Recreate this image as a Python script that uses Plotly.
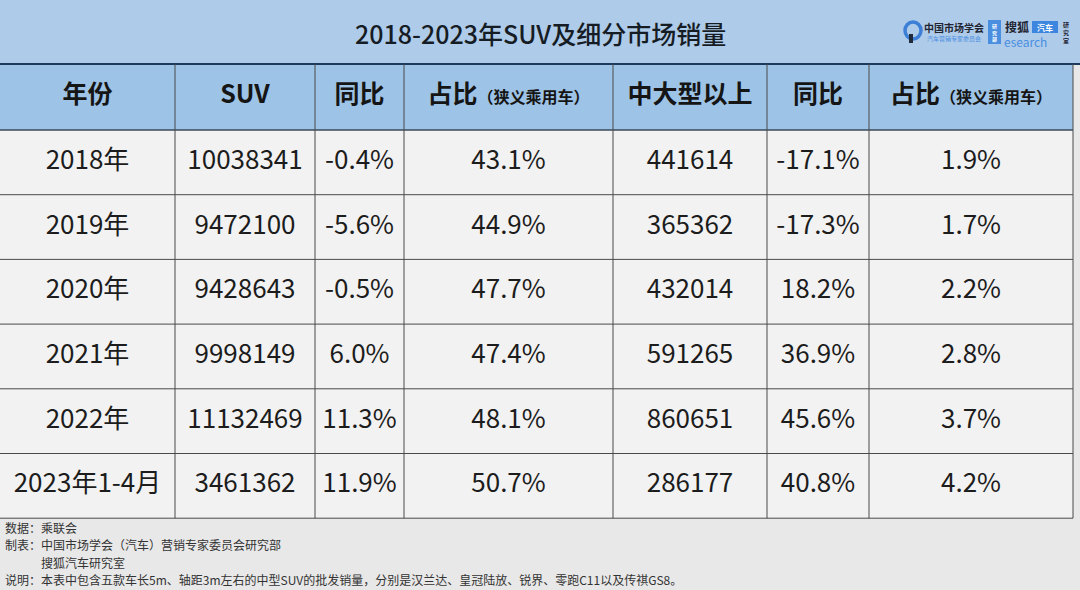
import plotly.graph_objects as go

# ---- data ----
years = ["2018年", "2019年", "2020年", "2021年", "2022年", "2023年1-4月"]
suv_sales = [10038341, 9472100, 9428643, 9998149, 11132469, 3461362]
suv_yoy = [-0.4, -5.6, -0.5, 6.0, 11.3, 11.9]
suv_share = [43.1, 44.9, 47.7, 47.4, 48.1, 50.7]
large_sales = [441614, 365362, 432014, 591265, 860651, 286177]
large_yoy = [-17.1, -17.3, 18.2, 36.9, 45.6, 40.8]
large_share = [1.9, 1.7, 2.2, 2.8, 3.7, 4.2]

headers = ["年份", "SUV", "同比", "占比", "中大型以上", "同比", "占比"]
header_notes = ["", "", "", "（狭义乘用车）", "", "", "（狭义乘用车）"]

title = "2018-2023年SUV及细分市场销量"
notes = [
    "数据：乘联会",
    "制表：中国市场学会（汽车）营销专家委员会研究部",
    "　　　搜狐汽车研究室",
    "说明：本表中包含五款车长5m、轴距3m左右的中型SUV的批发销量，分别是汉兰达、皇冠陆放、锐界、零跑C11以及传祺GS8。",
]

# ---- layout geometry (pixel space) ----
W, H = 1080, 590
FONT = "Noto Sans CJK SC"
col_w = [175, 140, 89, 209, 154, 102, 204]
edges = [0]
for w in col_w:
    edges.append(edges[-1] + w)
centers = [(edges[i] + edges[i + 1]) / 2 for i in range(len(col_w))]
table_top, head_h, row_h = 64, 66, 64.7
body_top = table_top + head_h
body_bot = body_top + row_h * len(years)
row_y = [body_top + (i + 0.5) * row_h for i in range(len(years))]

pct = lambda vals: [f"{v:.1f}%" for v in vals]
columns = [years, [str(v) for v in suv_sales], pct(suv_yoy), pct(suv_share),
           [str(v) for v in large_sales], pct(large_yoy), pct(large_share)]

fig = go.Figure()

# body cells
for i, col in enumerate(columns):
    fig.add_trace(go.Scatter(
        x=[centers[i]] * len(col), y=row_y, text=col, mode="text",
        textposition="middle center", hoverinfo="skip", showlegend=False,
        textfont=dict(family=FONT, size=26, color="#1c1c1c")))

# header cells
head_text = [h + (f"<span style='font-size:16px'>{n}</span>" if n else "")
             for h, n in zip(headers, header_notes)]
fig.add_trace(go.Scatter(
    x=centers, y=[table_top + head_h / 2] * len(headers), text=head_text,
    mode="text", textposition="middle center", hoverinfo="skip", showlegend=False,
    textfont=dict(family=FONT, size=25, color="#151515", weight="bold")))

shapes = []
# backgrounds
shapes.append(dict(type="rect", x0=0, x1=W, y0=0, y1=table_top, fillcolor="#aecbea",
                   line_width=0, layer="below"))
shapes.append(dict(type="rect", x0=0, x1=edges[-1], y0=table_top, y1=body_top,
                   fillcolor="#9dc3e6", line_width=0, layer="below"))
shapes.append(dict(type="rect", x0=0, x1=edges[-1], y0=body_top, y1=body_bot,
                   fillcolor="#f2f2f2", line_width=0, layer="below"))
# horizontal lines
shapes.append(dict(type="line", x0=0, x1=W, y0=table_top, y1=table_top,
                   line=dict(color="#1d3a5c", width=2)))
shapes.append(dict(type="line", x0=0, x1=edges[-1], y0=body_top, y1=body_top,
                   line=dict(color="#3c4a5a", width=1.5)))
for k in range(1, len(years) + 1):
    y = body_top + k * row_h
    shapes.append(dict(type="line", x0=0, x1=edges[-1], y0=y, y1=y,
                       line=dict(color="#4a4a4a", width=1)))
# vertical lines
for x in edges[1:]:
    shapes.append(dict(type="line", x0=x, x1=x, y0=table_top, y1=body_bot,
                       line=dict(color="#4a4a4a", width=1)))

annotations = [dict(x=W / 2, y=33, text=title, showarrow=False, xanchor="center",
                    yanchor="middle", font=dict(family=FONT, size=25, color="#161c24",
                                                weight=500))]
for j, t in enumerate(notes):
    annotations.append(dict(x=3, y=527 + j * 17.5, text=t, showarrow=False, xanchor="left",
                            yanchor="middle", font=dict(family=FONT, size=12, color="#333333")))

# logo (top right)
shapes.append(dict(type="circle", x0=905, x1=921, y0=22, y1=39,
                   line=dict(color="#3d7fd6", width=3.5), fillcolor="rgba(0,0,0,0)"))
shapes.append(dict(type="rect", x0=909, x1=913, y0=34, y1=43, fillcolor="#1f2a3a",
                   line_width=0))
shapes.append(dict(type="rect", x0=988, x1=1001, y0=20, y1=44, fillcolor="#4a8ee0",
                   line_width=0))
shapes.append(dict(type="rect", x0=1032, x1=1058, y0=21, y1=33, fillcolor="#3d86e0",
                   line_width=0))
logo = [
    (954, 27, "中国市场学会", 10, "#1f2430", "bold", "center"),
    (954, 38, "汽车营销专家委员会", 6, "#4a8ee0", "normal", "center"),
    (994.5, 32, "研<br>究<br>部", 5, "#ffffff", "bold", "center"),
    (1017, 26, "搜狐", 12, "#1f2430", "bold", "center"),
    (1045, 27, "汽车", 8, "#ffffff", "bold", "center"),
    (1003, 41, "esearch", 12, "#4a8ee0", "normal", "left"),
    (1066, 32, "研<br>究<br>室", 6, "#1f2430", "bold", "center"),
]
for x, y, t, s, c, wt, xa in logo:
    annotations.append(dict(x=x, y=y, text=t, showarrow=False, xanchor=xa,
                            yanchor="middle", borderpad=0,
                            font=dict(family=FONT, size=s, color=c, weight=wt)))

fig.update_layout(
    width=W, height=H, margin=dict(l=0, r=0, t=0, b=0),
    paper_bgcolor="#e8e8e8", plot_bgcolor="#e8e8e8",
    xaxis=dict(range=[0, W], visible=False, fixedrange=True),
    yaxis=dict(range=[H, 0], visible=False, fixedrange=True),
    shapes=shapes, annotations=annotations,
)

fig.write_html("out.html", config={"displayModeBar": False},
               post_script="document.body.style.margin='0';")
